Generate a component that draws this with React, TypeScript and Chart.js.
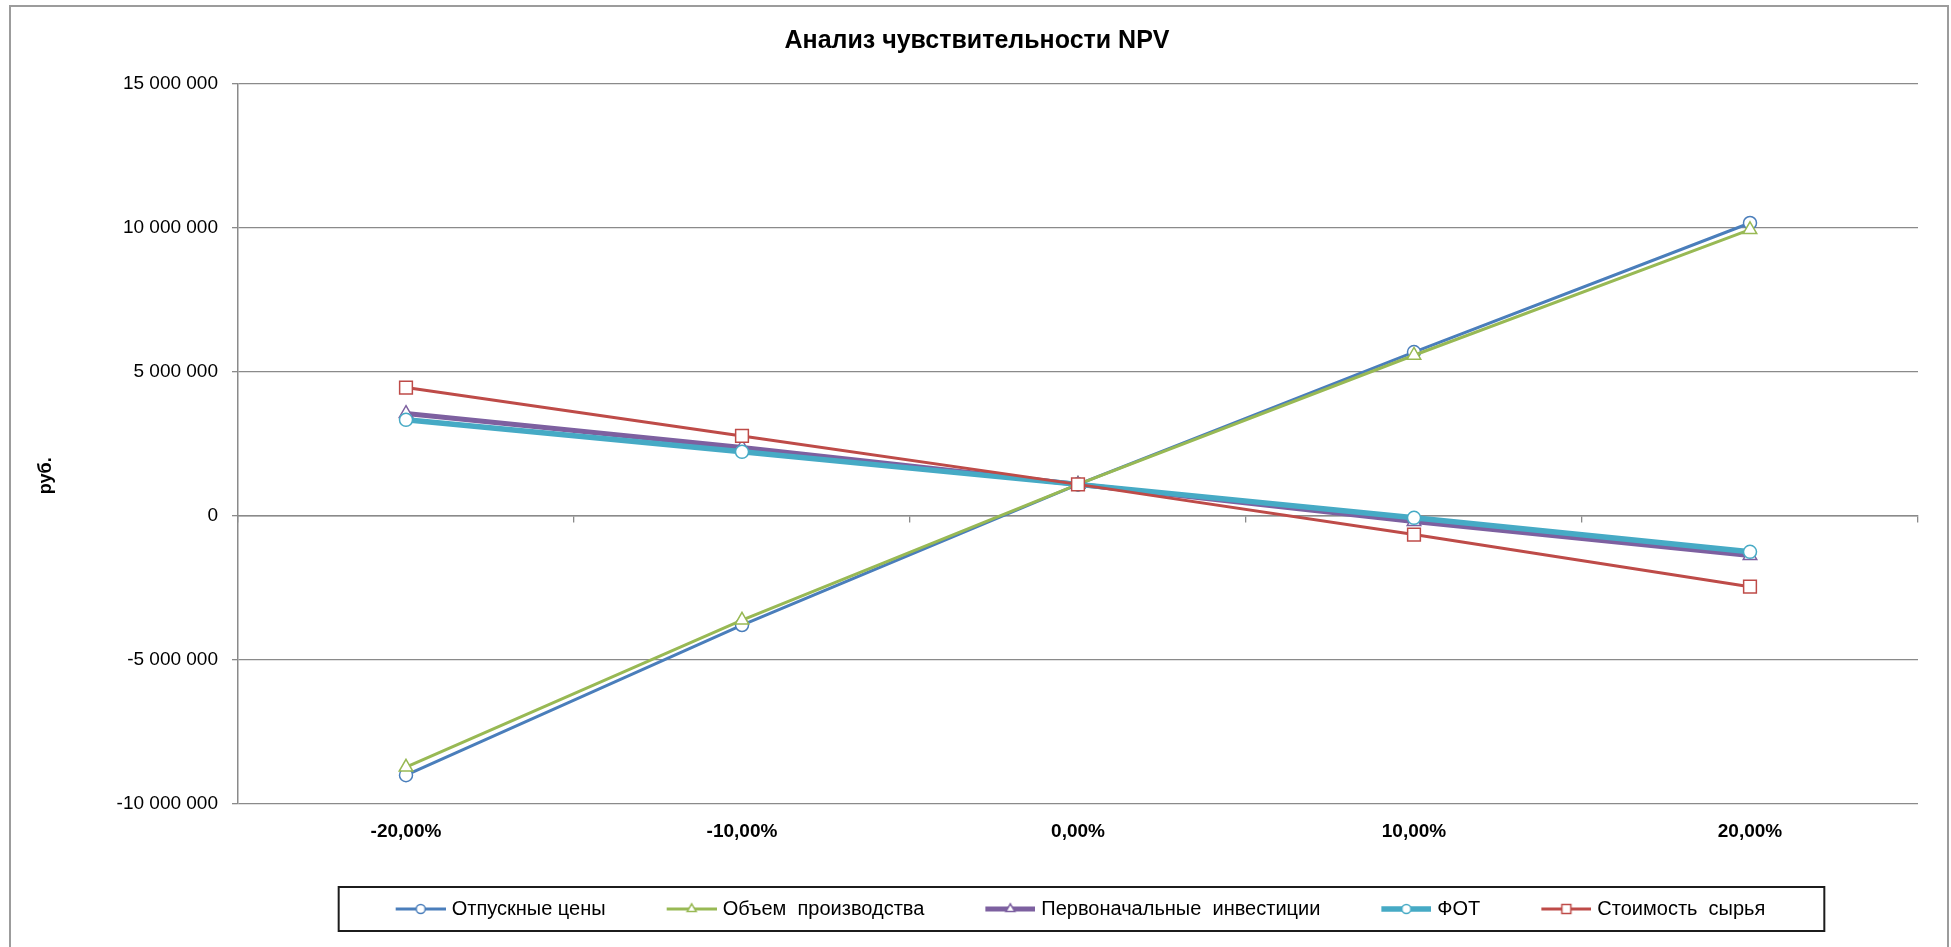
import React, { useEffect, useRef } from 'react';
import { Chart, registerables } from 'chart.js';

Chart.register(...registerables);

// ---- data ----
const categories = ['-20,00%', '-10,00%', '0,00%', '10,00%', '20,00%'];
const seriesNames = ['Отпускные цены', 'Объем  производства', 'Первоначальные  инвестиции', 'ФОТ', 'Стоимость  сырья'];
const priceValues = [-9000000, -3790000, 1090000, 5680000, 10160000];
const volumeValues = [-8720000, -3620000, 1090000, 5570000, 9930000];
const investValues = [3550000, 2370000, 1090000, -200000, -1380000];
const payrollValues = [3330000, 2220000, 1090000, -70000, -1250000];
const materialValues = [4450000, 2770000, 1090000, -650000, -2460000];
const yMin = -10000000;
const yMax = 15000000;
const yStep = 5000000;
const chartTitle = 'Анализ чувствительности NPV';
const yAxisTitle = 'руб.';

// ---- styles ----
const FONT = '"Liberation Sans", Arial, sans-serif';
const GRID = '#8a8a8a';
const colors = ['#4a7ebb', '#98b954', '#7d60a0', '#46aac5', '#be4b48'];
const lineWidths = [3, 3, 5, 5.5, 3];
const pointStyles = ['circle', 'triangle', 'triangle', 'circle', 'rect'];
const pointRadii = [6.5, 7.8, 7.8, 6.5, 9];

const LEGEND_BOX = 51; // reserved width of legend sample
const LEGEND_IMG_W = 59;

function formatNumber(v: number): string {
  const n = Math.round(v);
  const s = Math.abs(n).toString().replace(/\B(?=(\d{3})+(?!\d))/g, ' ');
  return (n < 0 ? '-' : '') + s;
}

function makeLegendImage(color: string, lw: number, style: string) {
  const c = document.createElement('canvas');
  c.width = LEGEND_IMG_W;
  c.height = 20;
  const ctx = c.getContext('2d')!;
  const cy = 10;
  const x0 = LEGEND_IMG_W - 50;
  ctx.strokeStyle = color;
  ctx.lineWidth = lw;
  ctx.beginPath();
  ctx.moveTo(x0, cy);
  ctx.lineTo(LEGEND_IMG_W, cy);
  ctx.stroke();
  ctx.fillStyle = '#ffffff';
  ctx.lineWidth = 1.5;
  const cx = x0 + 25;
  ctx.beginPath();
  if (style === 'circle') {
    ctx.arc(cx, cy, 4.5, 0, Math.PI * 2);
  } else if (style === 'triangle') {
    const rr = 5.2;
    ctx.moveTo(cx, cy - rr);
    ctx.lineTo(cx + rr * Math.sin(Math.PI / 3), cy + rr * 0.5);
    ctx.lineTo(cx - rr * Math.sin(Math.PI / 3), cy + rr * 0.5);
    ctx.closePath();
  } else {
    ctx.rect(cx - 4.5, cy - 4.5, 9, 9);
  }
  ctx.fill();
  ctx.stroke();
  return c;
}

const framePlugin = {
  id: 'frames',
  afterDraw(chart: any) {
    const ctx = chart.ctx;
    ctx.save();
    // outer chart border
    ctx.strokeStyle = '#9c9c9c';
    ctx.lineWidth = 2;
    ctx.strokeRect(10, 6, chart.width - 13, chart.height + 20);
    // legend frame
    const hb = chart.legend && chart.legend.legendHitBoxes;
    if (hb && hb.length) {
      const first = hb[0];
      const last = hb[hb.length - 1];
      const left = first.left + (LEGEND_BOX - 46) - 57;
      const right = last.left + last.width + 59;
      const cy = first.top + first.height / 2;
      ctx.strokeStyle = '#1c1c1c';
      ctx.lineWidth = 2;
      ctx.strokeRect(left, cy - 22, right - left, 44);
    }
    // y-axis title
    const ca = chart.chartArea;
    ctx.translate(46, (ca.top + ca.bottom) / 2 + 32);
    ctx.rotate(-Math.PI / 2);
    ctx.fillStyle = '#000';
    ctx.font = 'bold 18px ' + FONT;
    ctx.textAlign = 'center';
    ctx.textBaseline = 'middle';
    ctx.fillText(yAxisTitle, 0, 0);
    ctx.restore();
  },
};

export default function App() {
  const ref = useRef<HTMLCanvasElement | null>(null);

  useEffect(() => {
    document.body.style.margin = '0';
    Chart.defaults.font.family = FONT;
    const canvas = ref.current!;
    const allValues = [priceValues, volumeValues, investValues, payrollValues, materialValues];
    const legendImages = seriesNames.map((_, i) =>
      makeLegendImage(colors[i], lineWidths[i], pointStyles[i])
    );
    const datasets = seriesNames.map((name, i) => ({
      label: name,
      data: allValues[i],
      borderColor: colors[i],
      backgroundColor: '#ffffff',
      borderWidth: lineWidths[i],
      pointStyle: pointStyles[i] as any,
      pointRadius: pointRadii[i],
      pointBorderColor: colors[i],
      pointBackgroundColor: '#ffffff',
      pointBorderWidth: 1.5,
      tension: 0,
      order: 5 - i,
    }));

    const chart = new Chart(canvas, {
      type: 'line',
      data: { labels: categories, datasets },
      plugins: [framePlugin],
      options: {
        responsive: false,
        animation: false,
        events: [],
        devicePixelRatio: 1,
        layout: { padding: { top: 6, left: 10, right: 7, bottom: 18 } },
        plugins: {
          tooltip: { enabled: false },
          title: {
            display: true,
            text: chartTitle,
            color: '#000',
            font: { size: 25, weight: 'bold', family: FONT },
            padding: { top: 20.1, bottom: 27.4 },
          },
          legend: {
            display: true,
            position: 'bottom',
            fullSize: false,
            labels: {
              usePointStyle: true,
              pointStyleWidth: LEGEND_BOX,
              color: '#000',
              font: { size: 20, family: FONT },
              padding: 56,
              generateLabels: () =>
                seriesNames.map((name, i) => ({
                  text: name,
                  pointStyle: legendImages[i] as any,
                  fillStyle: 'transparent',
                  strokeStyle: 'transparent',
                  lineWidth: 0,
                  hidden: false,
                  datasetIndex: i,
                  fontColor: '#000',
                })),
            },
          },
        },
        scales: {
          x: {
            type: 'category',
            position: 'bottom',
            offset: true,
            grid: { display: false },
            border: { display: false },
            ticks: {
              color: '#000',
              font: { size: 19, weight: 'bold', family: FONT },
              padding: 8.6,
              maxRotation: 0,
              autoSkip: false,
            },
            afterFit: (s: any) => {
              s.height = 39;
            },
          },
          x0: {
            type: 'category',
            axis: 'x',
            position: { y: 0 } as any,
            offset: true,
            grid: {
              display: true,
              drawOnChartArea: false,
              drawTicks: true,
              tickLength: 6,
              offset: true,
              color: GRID,
              lineWidth: 1.3,
            },
            border: { display: true, color: GRID, width: 1.5 },
            ticks: { display: false },
          },
          y: {
            type: 'linear',
            position: 'left',
            min: yMin,
            max: yMax,
            ticks: {
              stepSize: yStep,
              color: '#000',
              font: { size: 19, family: FONT },
              padding: 14,
              callback: (v: any) => formatNumber(Number(v)),
            },
            grid: { color: GRID, lineWidth: 1.3, drawTicks: true, tickLength: 6 },
            border: { display: true, color: GRID, width: 1.5 },
            title: { display: false, text: yAxisTitle },
            afterFit: (s: any) => {
              s.width = 228;
            },
          },
          yR: {
            type: 'linear',
            axis: 'y',
            position: 'right',
            display: true,
            grid: { display: false },
            border: { display: false },
            ticks: { display: false },
            afterFit: (s: any) => {
              s.width = 26;
            },
          },
        },
      } as any,
    });
    return () => chart.destroy();
  }, []);

  return (
    <div style={{ width: 1951, height: 947, position: 'relative', background: '#fff' }}>
      <canvas ref={ref} width={1951} height={947} style={{ display: 'block' }} />
    </div>
  );
}
